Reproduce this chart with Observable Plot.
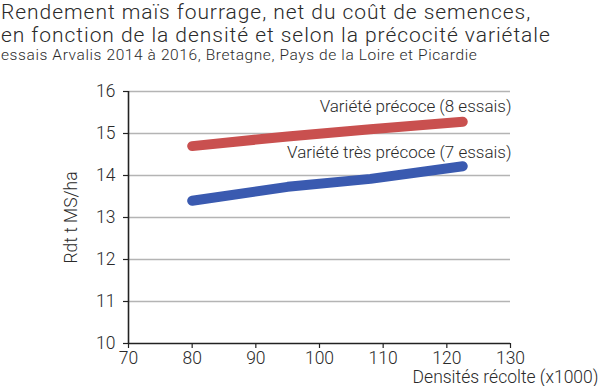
<!DOCTYPE html>
<html>
<head>
<meta charset="utf-8">
<script src="https://cdn.jsdelivr.net/npm/d3@7"></script>
<script src="https://cdn.jsdelivr.net/npm/@observablehq/plot@0.6"></script>
<style>
  html, body { margin: 0; padding: 0; background: #fff; }
  body { width: 600px; height: 386px; overflow: hidden; font-family: Roboto, "Open Sans", sans-serif; color: #2a2a2a; }
  #title { font-size: 21px; font-weight: 300; line-height: 23px; padding: 1px 0 0 1px; letter-spacing: 0.95px; height: 46px; }
  #subtitle { font-size: 15.5px; font-weight: 300; line-height: 16px; padding-left: 1px; letter-spacing: 0.6px; height: 16px; }
  #chart svg { display: block; }
</style>
</head>
<body>
<div id="title">Rendement maïs fourrage, net du coût de semences,<br>en fonction de la densité et selon la précocité variétale</div>
<div id="subtitle">essais Arvalis 2014 à 2016, Bretagne, Pays de la Loire et Picardie</div>
<div id="chart"></div>
<script>
// Data
const densities = [80, 95, 108, 122.5];
const precoce = [14.70, 14.93, 15.10, 15.28];
const tresPrecoce = [13.40, 13.73, 13.92, 14.22];
const seriesNames = ["Variété précoce (8 essais)", "Variété très précoce (7 essais)"];
const xTicks = [70, 80, 90, 100, 110, 120, 130];
const yTicks = [10, 11, 12, 13, 14, 15, 16];
const labelY = [15.65, 14.55];

const rows = [
  ...densities.map((d, i) => ({x: d, y: precoce[i], s: seriesNames[0]})),
  ...densities.map((d, i) => ({x: d, y: tresPrecoce[i], s: seriesNames[1]}))
];
const labels = seriesNames.map((s, i) => ({s, y: labelY[i]}));

const font = "Roboto, 'Open Sans', sans-serif";
const chart = Plot.plot({
  width: 600,
  height: 323,
  marginTop: 28,
  marginBottom: 43,
  marginLeft: 128,
  marginRight: 90,
  style: {fontFamily: font, fontSize: "17.5px", fontWeight: 300, color: "#2a2a2a", overflow: "visible"},
  x: {domain: [70, 130]},
  y: {domain: [10, 16]},
  color: {domain: seriesNames, range: ["#c9504f", "#3a5ab0"]},
  marks: [
    Plot.ruleY(yTicks.slice(1), {x1: 70, x2: 130, stroke: "#b4b4b4", strokeWidth: 1.3}),
    Plot.axisY({ticks: yTicks, tickSize: 5, tickPadding: 8, tickFormat: d => d, label: "Rdt t MS/ha", labelAnchor: "center", labelArrow: "none", labelOffset: 64, stroke: "#222", strokeWidth: 1.2}),
    Plot.axisX({ticks: xTicks, tickSize: 5, tickPadding: 3, tickFormat: d => d, label: null, stroke: "#222", strokeWidth: 1.2}),
    Plot.ruleX([70], {stroke: "#222", strokeWidth: 1.6}),
    Plot.ruleY([10], {stroke: "#222", strokeWidth: 1.6}),
    Plot.line(rows, {x: "x", y: "y", z: "s", stroke: "s", strokeWidth: 10, strokeLinecap: "round", strokeLinejoin: "round"}),
    Plot.text(labels, {x: 130, y: "y", text: "s", textAnchor: "end", dx: 1, fontSize: 17, fill: "#2a2a2a"}),
    Plot.text(["Densités récolte (x1000)"], {x: 130, y: 10, text: d => d, textAnchor: "end", dx: 88, dy: 34, fontSize: 17.5, fill: "#2a2a2a"})
  ]
});
document.getElementById("chart").appendChild(chart);
</script>
</body>
</html>
